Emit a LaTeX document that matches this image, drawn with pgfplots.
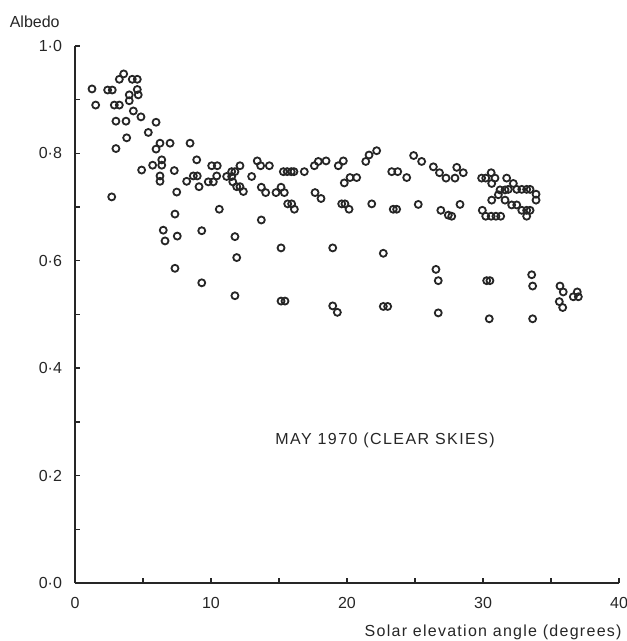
\documentclass[border=0pt]{standalone}
\usepackage{fontspec}
\setmainfont{Liberation Sans}
\usepackage{pgfplots}
\pgfplotsset{compat=1.18}
\definecolor{ink}{HTML}{262626}
\begin{document}
\begin{tikzpicture}[font=\fontsize{8}{9.5}\selectfont, color=ink]
\begin{axis}[
  name=ax,
  scale only axis,
  width=272pt, height=268.5pt,
  xmin=0, xmax=40, ymin=0, ymax=1,
  axis x line*=bottom, axis y line*=left,
  xtick={0,10,20,30,40}, xticklabels={0,10,20,30,40},
  minor xtick={5,15,25,35},
  ytick={0,0.2,0.4,0.6,0.8,1},
  yticklabels={0·0,0·2,0·4,0·6,0·8,1·0},
  minor ytick={0.1,0.3,0.5,0.7,0.9},
  tick align=inside,
  major tick length=2.5pt, minor tick length=2.5pt,
  axis line style={ink, line width=0.8pt},
  every tick/.style={ink, line width=0.7pt},
  xticklabel style={yshift=-3.5pt},
  yticklabel style={xshift=-3pt},
  clip=false,
]
\addplot+[only marks, mark=o, mark size=1.75pt, draw=ink,
  mark options={line width=0.9pt, draw=ink, fill=none}]
coordinates {
(1.25,0.920) (1.52,0.890) (2.40,0.918) (2.74,0.918) (2.89,0.890)
(3.26,0.890) (3.01,0.860) (3.75,0.860) (3.01,0.809) (2.70,0.719)
(3.58,0.948) (3.26,0.938) (4.21,0.938) (4.58,0.938) (4.58,0.919)
(3.99,0.909) (4.65,0.909) (3.99,0.898) (4.29,0.879) (4.85,0.868)
(3.80,0.829) (5.96,0.858) (5.39,0.839) (6.25,0.819) (6.99,0.819)
(5.96,0.808) (8.46,0.819) (4.90,0.769) (5.71,0.778) (6.38,0.788)
(6.38,0.778) (6.25,0.758) (6.25,0.748) (7.30,0.768) (7.48,0.728)
(8.95,0.788) (8.21,0.748) (8.70,0.758) (8.99,0.758) (9.12,0.738)
(10.05,0.777) (10.46,0.777) (9.80,0.747) (10.17,0.747) (10.42,0.758)
(11.15,0.757) (11.52,0.757) (11.52,0.766) (11.76,0.766) (12.13,0.777)
(11.60,0.747) (11.89,0.738) (12.13,0.738) (12.38,0.729) (12.99,0.757)
(13.40,0.786) (13.70,0.737)
(7.35,0.687) (10.61,0.696) (6.49,0.657) (6.62,0.637) (7.52,0.646)
(9.32,0.656) (11.76,0.645) (11.89,0.606) (7.35,0.586) (9.32,0.559)
(11.76,0.535) (13.70,0.676)
(13.65,0.777) (14.29,0.777) (14.02,0.727) (14.78,0.727) (15.15,0.737)
(15.39,0.727) (15.32,0.766) (15.60,0.766) (15.90,0.766) (16.10,0.766)
(16.86,0.766) (15.64,0.706) (15.93,0.706) (16.13,0.696) (17.60,0.777)
(17.89,0.785) (18.46,0.786) (17.65,0.727) (18.09,0.716) (19.36,0.777)
(19.73,0.786) (19.61,0.706) (19.85,0.706) (20.15,0.696) (19.80,0.745)
(20.22,0.755) (20.71,0.755) (21.38,0.785) (21.62,0.797) (22.18,0.805)
(21.82,0.706) (23.29,0.766) (23.73,0.766) (24.39,0.755) (23.40,0.696)
(23.65,0.696)
(15.15,0.624) (18.95,0.624) (22.67,0.614) (15.15,0.525) (15.44,0.525)
(18.95,0.516) (19.29,0.504) (22.67,0.515) (22.99,0.515)
(24.90,0.796) (25.49,0.785) (26.35,0.775) (26.80,0.764) (27.28,0.754)
(27.94,0.754) (28.07,0.774) (28.55,0.764) (25.24,0.705) (26.90,0.694)
(27.45,0.685) (27.70,0.683) (28.31,0.705)
(29.90,0.754) (30.20,0.754) (30.60,0.764) (30.64,0.744) (30.88,0.754)
(31.74,0.754) (31.25,0.732) (31.62,0.732) (31.86,0.733) (32.23,0.744)
(32.48,0.733) (32.85,0.733) (33.21,0.733) (33.46,0.733) (33.90,0.724)
(33.90,0.713) (30.64,0.713) (31.13,0.723) (31.62,0.713) (32.11,0.704)
(32.48,0.704) (32.85,0.694) (33.21,0.694) (33.46,0.694) (33.21,0.683)
(29.95,0.694) (30.20,0.683) (30.60,0.683) (30.95,0.683) (31.30,0.683)
(26.54,0.584) (26.71,0.563) (26.71,0.503) (30.27,0.563) (30.51,0.563)
(30.46,0.492) (33.58,0.574) (33.65,0.553) (33.65,0.492) (35.66,0.553)
(35.90,0.542) (35.61,0.524) (35.86,0.513) (36.64,0.533) (36.93,0.542)
(37.01,0.533)
};
\node[anchor=base east, inner sep=0pt] at (rel axis cs:0,1) [xshift=-7.5pt, yshift=9pt] {Albedo};
\node[anchor=base east, inner sep=0pt] at (rel axis cs:1,0) [xshift=1.5pt, yshift=-26.5pt]
  {\addfontfeature{LetterSpace=8}Solar elevation angle (degrees)};
\node at (axis cs:22.8,0.266) {\addfontfeature{LetterSpace=9}MAY 1970 (CLEAR SKIES)};
\end{axis}
\pgfresetboundingbox
\path ([shift={(-37.5pt,-29pt)}]ax.south west) rectangle ([shift={(3.5pt,23pt)}]ax.north east);
\end{tikzpicture}
\end{document}
